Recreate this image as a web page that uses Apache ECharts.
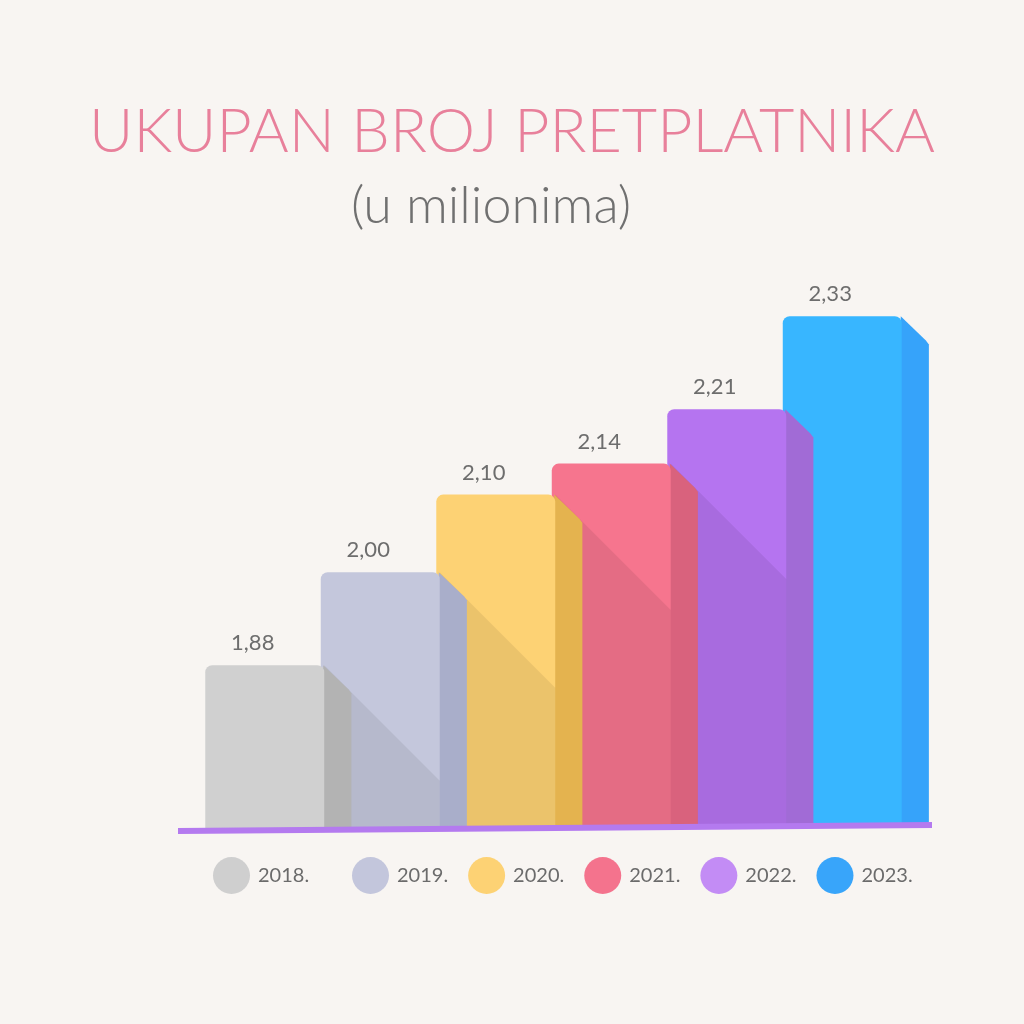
<!DOCTYPE html>
<html>
<head>
<meta charset="utf-8">
<script src="https://cdn.jsdelivr.net/npm/echarts@6/dist/echarts.min.js"></script>
<style>
  html, body { margin: 0; padding: 0; background: #f8f5f2; }
  #chart { width: 1024px; height: 1024px; }
</style>
</head>
<body>
<div id="chart"></div>
<script>
// ---- data ----
const categories = ['2018.', '2019.', '2020.', '2021.', '2022.', '2023.'];
const values = [1.88, 2.00, 2.10, 2.14, 2.21, 2.33];
const frontColors = ['#d0d0d0', '#c4c7dc', '#fdd274', '#f6758e', '#b574f0', '#38b6ff'];
const sideColors = ['#b3b3b3', '#a9aeca', '#e4b34f', '#d9627d', '#a16bd6', '#36a3fa'];
const legendColors = ['#cfcfcf', '#c3c6dc', '#fdd274', '#f4738d', '#c38cf5', '#38a5fa'];
const titleText = 'UKUPAN BROJ PRETPLATNIKA';
const subtitleText = '(u milionima)';

const Y_MIN = 1.67;
const Y_MAX = 2.4;
const FONT = 'Lato, "Noto Sans", sans-serif';

function fmt(v) { return v.toFixed(2).replace('.', ','); }

function makeRender(i) {
  return function (params, api) {
    const idx = api.value(0);
    const v = api.value(1);
    const p = api.coord([idx, v]);
    const cx = p[0], top = p[1];
    const base = api.coord([idx, Y_MIN])[1];
    const band = api.size([1, 0])[0];
    const fw = band * 1.03;
    const left = cx - fw / 2;
    const right = cx + fw / 2;
    const sw = band * 0.235;
    const children = [];
    // cast shadow onto the next bar's front (the reference shows none on the last bar)
    if (idx < categories.length - 2) {
      const nextRight = right + band;
      const dy = Math.min(nextRight - right, base - top);
      children.push({
        type: 'polygon', z2: 0,
        shape: { points: [[right, top], [right + dy, top + dy], [nextRight, top + dy], [nextRight, base], [right, base]] },
        style: { fill: 'rgba(0,0,0,0.07)' }
      });
    }
    children.push({
      type: 'polygon', z2: 1,
      shape: { points: [[right - 1, top], [right + sw - 3, top + sw - 3], [right + sw, top + sw + 1], [right + sw, base], [right - 1, base]] },
      style: { fill: sideColors[i] }
    });
    children.push({
      type: 'rect', z2: 2,
      shape: { x: left, y: top, width: fw, height: base - top, r: [7, 7, 0, 0] },
      style: { fill: frontColors[i] }
    });
    children.push({
      type: 'text', z2: 3,
      style: {
        x: cx - 12, y: top - 22, text: fmt(v),
        align: 'center', verticalAlign: 'middle',
        fill: '#6d6d6d', font: '22px ' + FONT
      }
    });
    return { type: 'group', children: children };
  };
}

const series = categories.map((name, i) => ({
  type: 'custom',
  name: name,
  z: 10 + (categories.length - i),
  itemStyle: { color: legendColors[i] },
  encode: { x: 0, y: 1 },
  data: [[i, values[i]]],
  renderItem: makeRender(i),
  silent: true
}));

const legendBase = {
  icon: 'circle',
  itemWidth: 37,
  itemHeight: 37,
  top: 852,
  orient: 'horizontal',
  selectedMode: false,
  textStyle: { color: '#6b6b6b', fontSize: 20, fontFamily: FONT, padding: [0, 0, 0, 3] }
};

const option = {
  backgroundColor: '#f8f5f2',
  animation: false,
  title: [
    {
      text: titleText,
      left: 'center',
      top: 97,
      textStyle: { color: '#e8809b', fontSize: 61, fontWeight: 300, fontFamily: FONT }
    },
    {
      text: subtitleText,
      left: 346,
      top: 175,
      textStyle: { color: '#707070', fontSize: 52, fontWeight: 300, fontFamily: FONT }
    }
  ],
  legend: [
    Object.assign({}, legendBase, {
      left: 208,
      data: [{ name: categories[0], itemStyle: { color: legendColors[0] } }]
    }),
    Object.assign({}, legendBase, {
      left: 347,
      itemGap: 20,
      data: categories.slice(1).map((n, k) => ({ name: n, itemStyle: { color: legendColors[k + 1] } }))
    })
  ],
  grid: { left: 207, right: 124, top: 262, bottom: 196 },
  xAxis: {
    type: 'category',
    data: categories,
    show: false
  },
  yAxis: {
    type: 'value',
    min: Y_MIN,
    max: Y_MAX,
    show: false
  },
  graphic: [
    {
      type: 'polygon',
      z: 100,
      shape: { points: [[178, 828], [932, 822], [932, 828], [178, 834]] },
      style: { fill: '#b47aef' }
    }
  ],
  series: series
};

const chart = echarts.init(document.getElementById('chart'), null, { renderer: 'canvas' });
chart.setOption(option);
</script>
</body>
</html>
